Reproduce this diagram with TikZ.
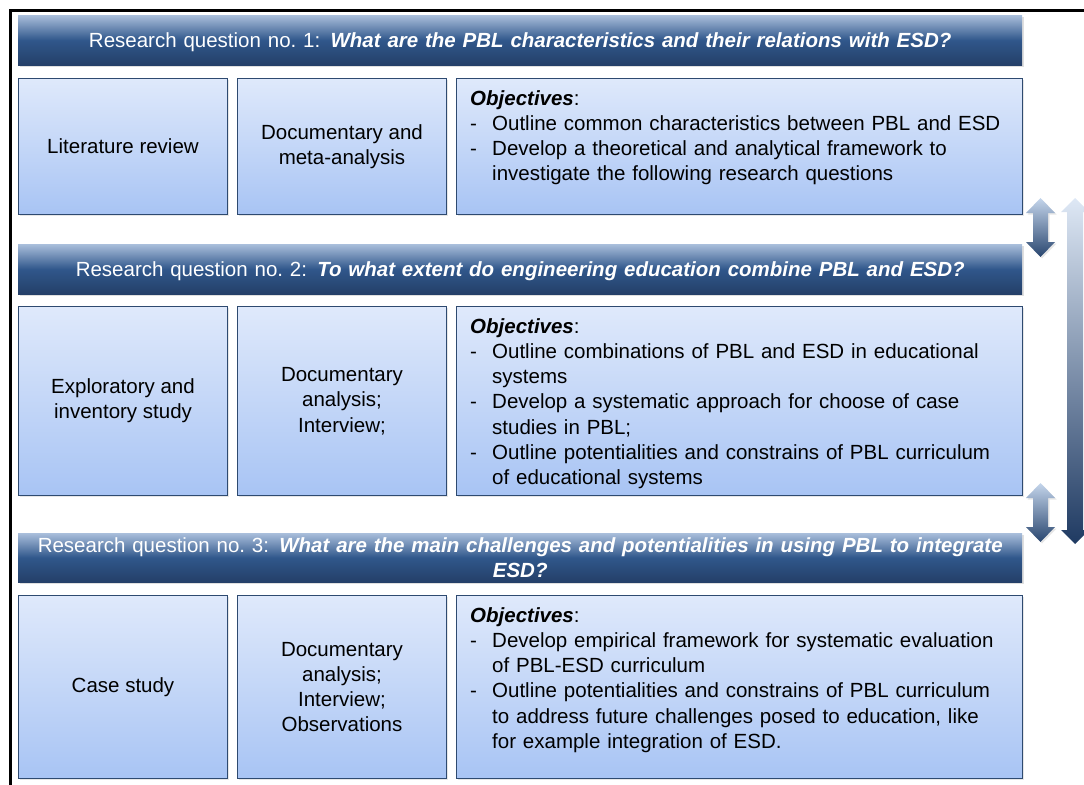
\documentclass[tikz,border=0pt]{standalone}
\usepackage{fontspec}
\setmainfont{Liberation Sans}
\usetikzlibrary{positioning, shadows}
\definecolor{hdrtop}{HTML}{A9BEDB}
\definecolor{hdrmid}{HTML}{30578B}
\definecolor{hdrbot}{HTML}{243F68}
\definecolor{celltop}{HTML}{DFE9FB}
\definecolor{cellbot}{HTML}{A8C4F4}
\definecolor{celledge}{HTML}{2E4A70}
\definecolor{arrlight}{HTML}{C4D5EB}
\definecolor{arrdark}{HTML}{29466F}
\definecolor{biglight}{HTML}{DEE8F5}
\definecolor{bigdark}{HTML}{1F3A62}

\newcommand{\dgfont}{\fontsize{20.5bp}{25.3bp}\selectfont}
\newcommand{\objitem}[1]{\par\noindent\hangindent=22bp\hangafter=1\makebox[22bp][l]{-}#1\par}

\begin{document}
\begin{tikzpicture}[x=1bp, y=-1bp,
  hdr/.style={anchor=north west, minimum width=1004bp, minimum height=50bp, inner sep=0pt,
    top color=hdrtop, bottom color=hdrbot, middle color=hdrmid, text=white,
    font=\dgfont, align=center, text width=1000bp,
    drop shadow={shadow xshift=1.5bp, shadow yshift=-2bp, opacity=0.25}},
  cell/.style={anchor=north west, draw=celledge, line width=1bp, inner sep=0pt,
    top color=celltop, bottom color=cellbot, font=\dgfont, align=center,
    drop shadow={shadow xshift=1.5bp, shadow yshift=-1.5bp, opacity=0.2}},
  objtxt/.style={anchor=north west, inner sep=0pt, font=\dgfont, text width=560bp, align=left},
  updown/.style={top color=arrlight, bottom color=arrdark,
    drop shadow={shadow xshift=1.5bp, shadow yshift=-1.5bp, opacity=0.2}},
]
\useasboundingbox (0,0) rectangle (1084,785);

% Frame
\draw[black, line width=3bp] (10.5,785) -- (10.5,10.5) -- (1084,10.5);

% === Research question 1 ===
\node[hdr, text depth=0pt] (q1) at (18,15) {Research question no.\ 1: \textbf{\textit{What are the PBL characteristics and their relations with ESD?}}};

\node[cell, minimum width=209bp, minimum height=136bp] (meth1) at (18,78) {Literature review};
\node[cell, minimum width=209bp, minimum height=136bp] (tool1) at (237,78) {Documentary and\\meta-analysis};
\node[cell, minimum width=566bp, minimum height=136bp] (obj1) at (456,78) {};
\node[objtxt] (objtxt1) at ([xshift=14bp, yshift=-12bp]obj1.north west) {\textbf{\textit{Objectives}}:\par
  \objitem{Outline common characteristics between PBL and ESD}
  \objitem{Develop a theoretical and analytical framework to\newline investigate the following research questions}};

% === Research question 2 ===
\node[hdr, text depth=0pt] (q2) at (18,244) {Research question no.\ 2: \textbf{\textit{To what extent do engineering education combine PBL and ESD?}}};

\node[cell, minimum width=209bp, minimum height=189bp] (meth2) at (18,306) {Exploratory and\\inventory study};
\node[cell, minimum width=209bp, minimum height=189bp] (tool2) at (237,306) {Documentary\\analysis;\\Interview;};
\node[cell, minimum width=566bp, minimum height=189bp] (obj2) at (456,306) {};
\node[objtxt] (objtxt2) at ([xshift=14bp, yshift=-12bp]obj2.north west) {\textbf{\textit{Objectives}}:\par
  \objitem{Outline combinations of PBL and ESD in educational\newline systems}
  \objitem{Develop a systematic approach for choose of case\newline studies in PBL;}
  \objitem{Outline potentialities and constrains of PBL curriculum\newline of educational systems}};

% === Research question 3 ===
\node[hdr, minimum height=49bp] (q3) at (18,533) {Research question no.\ 3: \textbf{\textit{What are the main challenges and potentialities in using PBL to integrate\\ESD?}}};

\node[cell, minimum width=209bp, minimum height=183bp] (meth3) at (18,595) {Case study};
\node[cell, minimum width=209bp, minimum height=183bp] (tool3) at (237,595) {Documentary\\analysis;\\Interview;\\Observations};
\node[cell, minimum width=566bp, minimum height=183bp] (obj3) at (456,595) {};
\node[objtxt] (objtxt3) at ([xshift=14bp, yshift=-12bp]obj3.north west) {\textbf{\textit{Objectives}}:\par
  \objitem{Develop empirical framework for systematic evaluation\newline of PBL-ESD curriculum}
  \objitem{Outline potentialities and constrains of PBL curriculum\newline to address future challenges posed to education, like\newline for example integration of ESD.}};

% === Block arrows on the right ===
\shade[updown] (1040.5,198) -- ++(14.5,15) -- ++(-7,0) -- ++(0,29) -- ++(7,0) -- ++(-14.5,15)
  -- ++(-14.5,-15) -- ++(7,0) -- ++(0,-29) -- ++(-7,0) -- cycle;
\shade[updown] (1040.5,483) -- ++(14.5,15) -- ++(-7,0) -- ++(0,29) -- ++(7,0) -- ++(-14.5,15)
  -- ++(-14.5,-15) -- ++(7,0) -- ++(0,-29) -- ++(-7,0) -- cycle;
\shade[top color=biglight, bottom color=bigdark] (1075,198) -- ++(14,14) -- ++(-6,0) -- ++(0,318) -- ++(6,0) -- ++(-14,14)
  -- ++(-14,-14) -- ++(6,0) -- ++(0,-318) -- ++(-6,0) -- cycle;

\end{tikzpicture}
\end{document}
